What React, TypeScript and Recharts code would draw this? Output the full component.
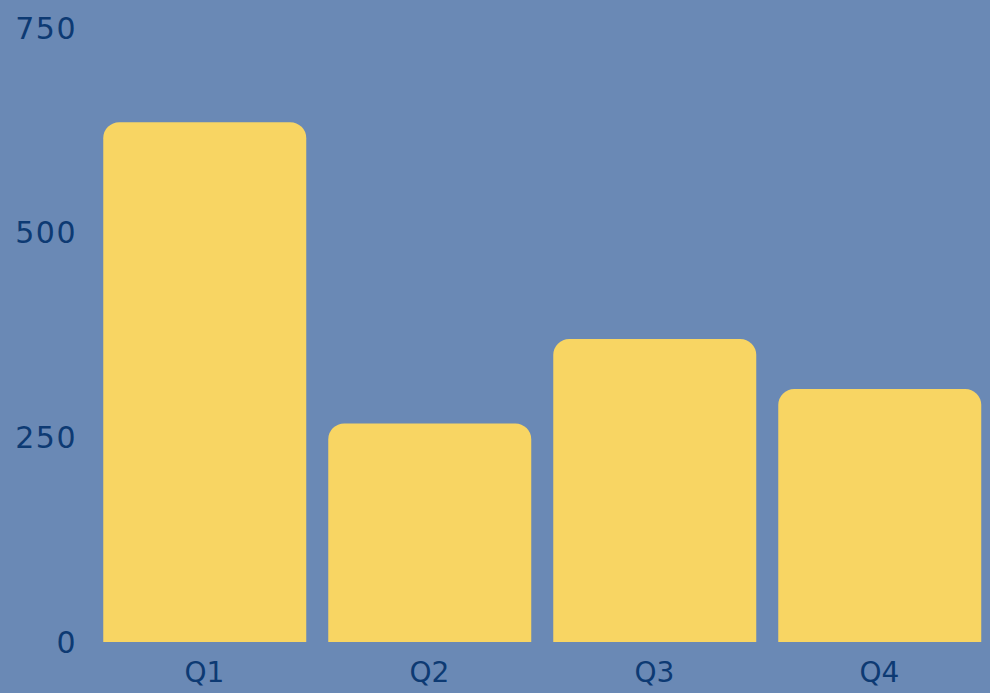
import React from "react";
import { BarChart, Bar, XAxis, YAxis } from "recharts";

const quarters = ["Q1", "Q2", "Q3", "Q4"];
const values = [635, 267, 370, 309];
const yTicks = [0, 250, 500, 750];

const data = quarters.map((q, i) => ({ name: q, value: values[i] }));

const textColor = "#0d3a73";
const font = "'DejaVu Sans', sans-serif";

export default function App() {
  return (
    <div
      style={{
        position: "absolute",
        left: 0,
        top: 0,
        width: 990,
        height: 693,
        overflow: "hidden",
        background: "#6a89b5",
      }}
    >
      <BarChart
        width={1000}
        height={700}
        data={data}
        margin={{ top: 28, right: 8, bottom: 18, left: 0 }}
        barCategoryGap="5%"
      >
        <XAxis
          dataKey="name"
          axisLine={false}
          tickLine={false}
          height={40}
          tickMargin={14}
          tick={{ fill: textColor, fontSize: 28, fontFamily: font }}
        />
        <YAxis
          domain={[0, 750]}
          ticks={yTicks}
          axisLine={false}
          tickLine={false}
          width={92}
          tickMargin={9}
          tick={{ fill: textColor, fontSize: 30, fontFamily: font, letterSpacing: 1.5 }}
        />
        <Bar
          dataKey="value"
          fill="#f8d563"
          radius={[16, 16, 0, 0]}
          isAnimationActive={false}
        />
      </BarChart>
    </div>
  );
}
